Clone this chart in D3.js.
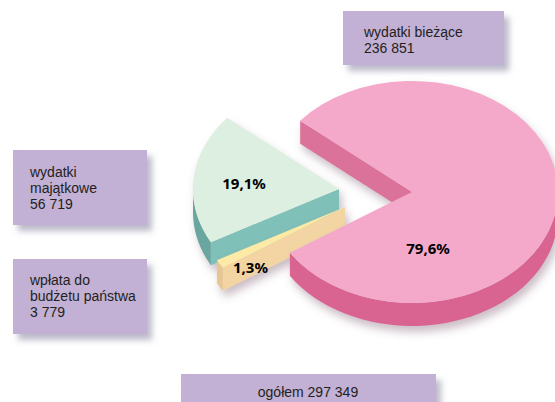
<!DOCTYPE html>
<html><head><meta charset="utf-8">
<script src="https://cdn.jsdelivr.net/npm/d3@7"></script>
<style>html,body{margin:0;padding:0;background:#fff;overflow:hidden}svg{display:block}</style>
</head><body><svg id="c" width="555" height="402"></svg>
<script>
const categories = ["wydatki bieżące", "wpłata do budżetu państwa", "wydatki majątkowe"];
const values = [236851, 3779, 56719];
const percentLabels = ["79,6%", "1,3%", "19,1%"];
const boxLines = [
  ["wydatki bieżące", "236 851"],
  ["wpłata do", "budżetu państwa", "3 779"],
  ["wydatki", "majątkowe", "56 719"]
];
const totalLines = ["ogółem 297 349"];

// layout
const rx = 146, ry = 111, depth = 23;
const centers = [[412, 192], [345, 207], [339, 189]];
const labelPos = [[428, 254], [250.5, 273], [244, 189]];
const topCol = ["#f4a9cb", "#fdeaa6", "#dcefe0"];
const frontCol = ["#da7299", "#f2d5a3", "#7fc0b8"];
const rimCol = ["#d96391", "#e6c794", "#6ba6a0"];
const boxGeom = [
  {x:343,y:11,w:161,h:54,tx:364,ty:37},
  {x:13,y:259,w:134,h:75,tx:30,ty:285},
  {x:13,y:150,w:134,h:75,tx:30,ty:177}
];
const totalGeom = {x:181,y:374,w:255,h:40,tx:308,ty:397};
const lineH = 16.2;

const svg = d3.select("#c");
const defs = svg.append("defs");
function shadow(id, dx, dy, blur, col, op){
  defs.append("filter").attr("id",id).attr("x","-20%").attr("y","-20%").attr("width","150%").attr("height","150%")
    .append("feDropShadow").attr("dx",dx).attr("dy",dy).attr("stdDeviation",blur)
    .attr("flood-color",col).attr("flood-opacity",op);
}
shadow("boxS",5,6,3,"#8f8ca6",0.6);
shadow("pieS",3,6,4,"#8c6f80",0.45);

const toRad = d3.scaleLinear().domain([0,360]).range([0,2*Math.PI]);
const pie = d3.pie().sort(null).startAngle(toRad(310)).endAngle(toRad(670));
const slices = pie(values);
const arc = d3.arc().innerRadius(0).outerRadius(rx);
const px = a => Math.sin(a)*rx, py = a => -Math.cos(a)*ry;
const line = d3.line();
const order = [2,1,0];

const pieG = svg.append("g");
order.forEach(i=>{
  const s = slices[i], [cx,cy] = centers[i];
  const g = pieG.append("g").attr("transform",`translate(${cx},${cy})`).attr("filter","url(#pieS)");
  let lo = s.startAngle, hi = s.endAngle;
  const visLo = [toRad(90), toRad(450)], visHi = [toRad(270), toRad(630)];
  visLo.forEach((vl,k)=>{
    const a0 = Math.max(lo,vl), a1 = Math.min(hi,visHi[k]);
    if(a1>a0){
      const ang = d3.range(0,41).map(t=>a0+(a1-a0)*t/40);
      const pts = ang.map(a=>[px(a),py(a)]).concat(ang.slice().reverse().map(a=>[px(a),py(a)+depth]));
      g.append("path").attr("d",line(pts)+"Z").attr("fill",rimCol[i]);
    }
  });
  const wallA = s.startAngle;
  const wall = [[0,0],[px(wallA),py(wallA)],[px(wallA),py(wallA)+depth],[0,depth]];
  g.append("path").attr("d",line(wall)+"Z").attr("fill",frontCol[i]);
  g.append("path").attr("transform",`scale(1,${ry/rx})`)
    .attr("d",arc({startAngle:s.startAngle,endAngle:s.endAngle})).attr("fill",topCol[i]);
});

svg.selectAll("text.pct").data(percentLabels).join("text").attr("class","pct")
  .attr("x",(d,i)=>labelPos[i][0]).attr("y",(d,i)=>labelPos[i][1])
  .attr("text-anchor","middle").attr("font-family","'Noto Sans'").attr("font-weight",700)
  .attr("font-size",15).attr("fill","#000").text(d=>d);

function box(g, lines, anchor){
  svg.append("rect").attr("x",g.x).attr("y",g.y).attr("width",g.w).attr("height",g.h)
    .attr("fill","#c2b0d5").attr("filter","url(#boxS)");
  lines.forEach((t,k)=>svg.append("text").attr("x",g.tx).attr("y",g.ty+k*lineH)
    .attr("text-anchor",anchor).attr("font-family","'Liberation Sans'").attr("font-size",14)
    .attr("fill","#231f20").text(t));
}
boxLines.forEach((l,i)=>box(boxGeom[i],l,"start"));
box(totalGeom,totalLines,"middle");
</script></body></html>
